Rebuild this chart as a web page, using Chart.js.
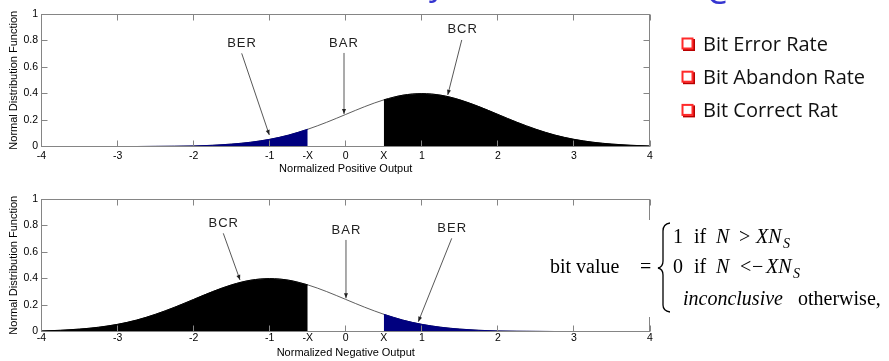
<!DOCTYPE html>
<html>
<head>
<meta charset="utf-8">
<script src="https://cdn.jsdelivr.net/npm/chart.js@4.4.1/dist/chart.umd.min.js"></script>
<style>
  html, body { margin: 0; padding: 0; background: #fff; }
  body { width: 889px; height: 361px; position: relative; overflow: hidden; }
  canvas { position: absolute; left: 0; }
  #top-chart { top: 0; }
  #bot-chart { top: 185px; }
  svg { position: absolute; left: 0; top: 0; overflow: hidden; }
</style>
</head>
<body>
<canvas id="top-chart" width="660" height="180"></canvas>
<canvas id="bot-chart" width="660" height="176"></canvas>
<svg width="889" height="361" viewBox="0 0 889 361">
  <g font-family="Open Sans" font-size="34" fill="#3535d0">
    <text x="429" y="-5">y</text>
    <text x="706" y="3.5">C</text>
  </g>
  <g id="bullets"></g>
  <rect x="530" y="220" width="359" height="97" fill="#fff"/>
  <g font-family="Liberation Serif" font-size="20" fill="#000">
    <text x="550" y="273">bit value</text>
    <text x="640" y="273">=</text>
    <path d="M670 223 Q663 224 663 231 L663 261 Q663 267 658 268 Q663 269 663 275 L663 305 Q663 311 670 312" fill="none" stroke="#000" stroke-width="1.3"/>
    <text x="673" y="243">1</text>
    <text x="694" y="243">if</text>
    <text x="716" y="243" font-style="italic">N</text>
    <text x="739" y="243">&gt;</text>
    <text x="756" y="243" font-style="italic">XN</text>
    <text x="783" y="248" font-style="italic" font-size="14">S</text>
    <text x="673" y="273">0</text>
    <text x="694" y="273">if</text>
    <text x="716" y="273" font-style="italic">N</text>
    <text x="740" y="273">&lt;</text>
    <text x="752" y="273">−</text>
    <text x="766" y="273" font-style="italic">XN</text>
    <text x="793" y="278" font-style="italic" font-size="14">S</text>
    <text x="683" y="305" font-style="italic">inconclusive</text>
    <text x="798" y="305">otherwise,</text>
  </g>
</svg>
<script>
"use strict";

// values
const xs = [-4, -3.75, -3.5, -3.25, -3, -2.75, -2.5, -2.25, -2, -1.75, -1.5, -1.25, -1, -0.75, -0.5, -0.25,
  0, 0.25, 0.5, 0.75, 1, 1.25, 1.5, 1.75, 2, 2.25, 2.5, 2.75, 3, 3.25, 3.5, 3.75, 4];
const posDensity = [0, 0, 0, 0, 0, 0, 0.001, 0.002, 0.004, 0.009, 0.018, 0.032, 0.054, 0.086, 0.130, 0.183,
  0.242, 0.301, 0.352, 0.387, 0.399, 0.387, 0.352, 0.301, 0.242, 0.183, 0.130, 0.086, 0.054, 0.032, 0.018, 0.009, 0.004];
const negDensity = [0.004, 0.009, 0.018, 0.032, 0.054, 0.086, 0.130, 0.183, 0.242, 0.301, 0.352, 0.387, 0.399,
  0.387, 0.352, 0.301, 0.242, 0.183, 0.130, 0.086, 0.054, 0.032, 0.018, 0.009, 0.004, 0.002, 0.001, 0, 0, 0, 0, 0, 0];
const threshold = 0.5; // the "X" on the axis
const xTicks = [-4, -3, -2, -1, -0.5, 0, 0.5, 1, 2, 3, 4];
const xTickLabels = ["-4", "-3", "-2", "-1", "-X", "0", "X", "1", "2", "3", "4"];
const yTicks = [0, 0.2, 0.4, 0.6, 0.8, 1];
const yTickLabels = ["0", "0.2", "0.4", "0.6", "0.8", "1"];
const legendItems = ["Bit Error Rate", "Bit Abandon Rate", "Bit Correct Rat"];

const topNotes = [
  { t: "BER", x: -1.37, y: 0.775, from: [-1.368, 0.703], to: [-1.005, 0.087] },
  { t: "BAR", x: -0.03, y: 0.775, from: [-0.023, 0.706], to: [-0.023, 0.245] },
  { t: "BCR", x: 1.53, y: 0.881, from: [1.525, 0.804], to: [1.341, 0.389] },
];
const botNotes = [
  { t: "BCR", x: -1.61, y: 0.814, from: [-1.61, 0.741], to: [-1.39, 0.389] },
  { t: "BAR", x: 0.003, y: 0.766, from: [0.003, 0.691], to: [0.003, 0.251] },
  { t: "BER", x: 1.393, y: 0.779, from: [1.393, 0.703], to: [0.954, 0.074] },
];

const NAVY = "#00007f";
const half = (v) => Math.floor(v) + 0.5;

// matlab-ish box, inward ticks and the arrow notes
const framePlugin = {
  id: "frame",
  afterDraw(chart, args, opts) {
    const { ctx, chartArea: a } = chart;
    const sx = chart.scales.x, sy = chart.scales.y;
    const L = half(a.left), R = half(a.right - 1), T = half(a.top), B = half(a.bottom);
    ctx.save();
    ctx.strokeStyle = "#858585";
    ctx.lineWidth = 1;
    ctx.strokeRect(L, T, R - L, B - T);
    ctx.beginPath();
    xTicks.forEach((v) => {
      if (Math.abs(v) === threshold) return;
      const px = half(sx.getPixelForValue(v));
      ctx.moveTo(px, B); ctx.lineTo(px, B - 6);
      ctx.moveTo(px, T); ctx.lineTo(px, T + 6);
    });
    yTicks.forEach((v) => {
      const py = half(sy.getPixelForValue(v));
      ctx.moveTo(L, py); ctx.lineTo(L + 6, py);
      ctx.moveTo(R, py); ctx.lineTo(R - 6, py);
    });
    ctx.stroke();

    ctx.strokeStyle = "#444";
    ctx.fillStyle = "#222";
    ctx.lineWidth = 0.9;
    ctx.font = "13px 'Liberation Sans', Arial, sans-serif";
    ctx.textAlign = "center";
    ctx.textBaseline = "middle";
    if ("letterSpacing" in ctx) ctx.letterSpacing = "1px";
    (opts.notes || []).forEach((n) => {
      ctx.fillText(n.t, sx.getPixelForValue(n.x) + 0.5, sy.getPixelForValue(n.y));
      const x1 = sx.getPixelForValue(n.from[0]), y1 = sy.getPixelForValue(n.from[1]);
      const x2 = sx.getPixelForValue(n.to[0]), y2 = sy.getPixelForValue(n.to[1]);
      ctx.beginPath();
      ctx.moveTo(x1, y1); ctx.lineTo(x2, y2);
      ctx.stroke();
      const ang = Math.atan2(y2 - y1, x2 - x1);
      ctx.beginPath();
      ctx.moveTo(x2, y2);
      ctx.lineTo(x2 - 5 * Math.cos(ang) + 2 * Math.sin(ang), y2 - 5 * Math.sin(ang) - 2 * Math.cos(ang));
      ctx.lineTo(x2 - 5 * Math.cos(ang) - 2 * Math.sin(ang), y2 - 5 * Math.sin(ang) + 2 * Math.cos(ang));
      ctx.closePath();
      ctx.fill();
    });
    ctx.restore();
  },
};

function makeChart(id, density, leftColor, rightColor, xTitle, notes, axisHeight, labelPad, titlePad) {
  const pts = xs.map((x, i) => ({ x, y: density[i] }));
  const area = (data, color) => ({
    data, fill: "origin", backgroundColor: color, borderColor: color, borderWidth: 1,
    pointRadius: 0, cubicInterpolationMode: "monotone",
  });
  const font = { family: "'Liberation Sans', Arial, sans-serif", size: 10.5 };
  const tfont = { family: "'Liberation Sans', Arial, sans-serif", size: 11 };
  return new Chart(document.getElementById(id), {
    type: "line",
    data: {
      datasets: [
        area(pts.filter((p) => p.x <= -threshold), leftColor),
        area(pts.filter((p) => p.x >= threshold), rightColor),
        { data: pts, fill: false, borderColor: "#5e5e5e", borderWidth: 1, pointRadius: 0, cubicInterpolationMode: "monotone" },
      ],
    },
    options: {
      responsive: false,
      animation: false,
      layout: { padding: { left: 0, right: 10, top: 14, bottom: 0 } },
      plugins: { legend: { display: false }, tooltip: { enabled: false }, frame: { notes } },
      scales: {
        x: {
          type: "linear", min: -4, max: 4,
          afterBuildTicks: (s) => { s.ticks = xTicks.map((v) => ({ value: v })); },
          afterFit: (s) => { s.height = axisHeight; },
          grid: { display: false, drawTicks: false },
          border: { display: false },
          ticks: {
            autoSkip: false, maxRotation: 0, padding: labelPad, color: "#000", font,
            callback: (v) => xTickLabels[xTicks.indexOf(v)],
          },
          title: { display: true, text: xTitle, color: "#000", font: tfont, padding: { top: 0, bottom: titlePad } },
        },
        y: {
          min: 0, max: 1,
          afterBuildTicks: (s) => { s.ticks = yTicks.map((v) => ({ value: v })); },
          afterFit: (s) => { s.width = 41.5; },
          grid: { display: false, drawTicks: false },
          border: { display: false },
          ticks: { padding: 3.5, color: "#000", font, callback: (v) => yTickLabels[yTicks.indexOf(v)] },
          title: { display: true, text: "Normal Distribution Function", color: "#000", font: tfont, padding: { top: 7, bottom: 0 } },
        },
      },
    },
    plugins: [framePlugin],
  });
}

makeChart("top-chart", posDensity, NAVY, "#000", "Normalized Positive Output", topNotes, 33.5, 3.7, 4.4);
makeChart("bot-chart", negDensity, "#000", NAVY, "Normalized Negative Output", botNotes, 29.5, 0.5, 1.4);

// right-hand bullet list
const NS = "http://www.w3.org/2000/svg";
const g = document.getElementById("bullets");
legendItems.forEach((label, i) => {
  const b = 51 + i * 33.2;
  const mk = (tag, attrs) => {
    const el = document.createElementNS(NS, tag);
    Object.entries(attrs).forEach(([k, v]) => el.setAttribute(k, v));
    g.appendChild(el);
    return el;
  };
  mk("rect", { x: 684, y: b - 11, width: 10, height: 10, fill: "none", stroke: "#b80000", "stroke-width": 2 });
  mk("rect", { x: 682.5, y: b - 12.5, width: 10, height: 10, fill: "#fff", stroke: "#ff2a2a", "stroke-width": 2 });
  const t = mk("text", { x: 703, y: b, "font-family": "Open Sans", "font-size": 20, fill: "#111" });
  t.textContent = label;
});
</script>
</body>
</html>
